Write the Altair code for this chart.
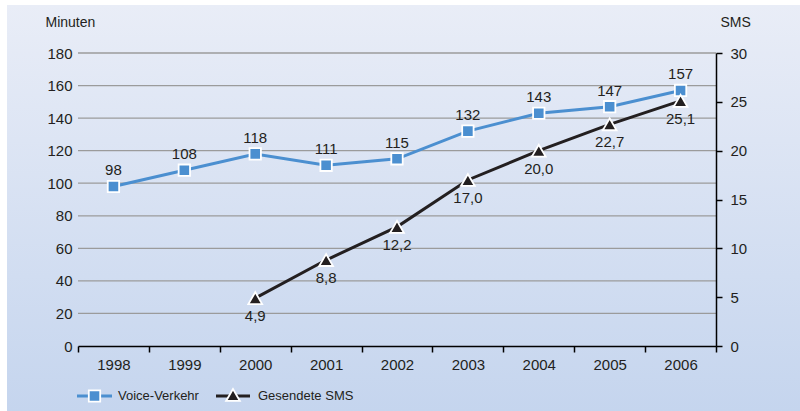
import altair as alt
import pandas as pd

# Data
years = ["1998", "1999", "2000", "2001", "2002", "2003", "2004", "2005", "2006"]
voice_minutes = [98, 108, 118, 111, 115, 132, 143, 147, 157]
sms_years = ["2000", "2001", "2002", "2003", "2004", "2005", "2006"]
sms_count = [4.9, 8.8, 12.2, 17.0, 20.0, 22.7, 25.1]
legend_names = ["Voice-Verkehr", "Gesendete SMS"]
minute_ticks = [0, 20, 40, 60, 80, 100, 120, 140, 160, 180]
sms_ticks = [0, 5, 10, 15, 20, 25, 30]

voice_df = pd.DataFrame({"year": years, "minutes": voice_minutes})
sms_df = pd.DataFrame({"year": sms_years, "sms": sms_count})
grid_df = pd.DataFrame({"minutes": minute_ticks[1:]})
one_row = pd.DataFrame({"k": [0]})
leg_voice = pd.DataFrame({"name": [legend_names[0]]})
leg_sms = pd.DataFrame({"name": [legend_names[1]]})

FONT = "Liberation Sans"
TEXT = "#231f20"
BLUE = "#4b8fd0"
BLACK = "#231f20"

W, H = 638, 293
PAD = {"left": 78, "top": 53, "right": 84, "bottom": 65}

x_enc = alt.X(
    "year:O",
    bandPosition=0.5,
    scale=alt.Scale(type="band", domain=years, paddingInner=0, paddingOuter=0),
    axis=alt.Axis(
        title=None, tickBand="extent", domainColor="#000000", domainWidth=1.5,
        tickColor="#000000", tickWidth=1.5, tickSize=6, labelPadding=5,
        labelFontSize=15, labelColor=TEXT, labelFont=FONT, labelAngle=0,
        zindex=1,
    ),
)

# Background panel with vertical gradient
background = alt.Chart(one_row).mark_rect(
    color=alt.LinearGradient(
        gradient="linear", x1=0, x2=0, y1=0, y2=1,
        stops=[alt.GradientStop(color="#e9edf7", offset=0),
               alt.GradientStop(color="#c5d5ee", offset=1)],
    )
).encode(
    x=alt.value(-71), x2=alt.value(722), y=alt.value(-48), y2=alt.value(358)
)

y_voice = alt.Y(
    "minutes:Q",
    scale=alt.Scale(domain=[0, 180], nice=False),
    axis=alt.Axis(
        values=minute_ticks, orient="left", grid=False,
        domain=False, ticks=False,
        labelPadding=6, labelFontSize=15, labelColor=TEXT, labelFont=FONT,
        title="Minuten", titleAngle=0, titleX=-33, titleY=-31,
        titleAlign="left", titleBaseline="middle", titleFontSize=14,
        titleFontWeight="normal", titleColor=TEXT, titleFont=FONT,
        zindex=1,
    ),
)

# Horizontal gridlines for the minutes scale, under the series
grid = alt.Chart(grid_df).mark_rule(color="#9b9b9b", strokeWidth=1.3).encode(
    y=y_voice
)

voice_base = alt.Chart(voice_df).encode(x=x_enc, y=y_voice)
voice_line = voice_base.mark_line(color=BLUE, strokeWidth=3)
voice_pts = voice_base.mark_point(
    shape="square", size=130, filled=True, fill=BLUE,
    stroke="white", strokeWidth=1.8, opacity=1,
)
voice_txt = voice_base.mark_text(
    dy=-16, baseline="middle", fontSize=15, font=FONT, color=TEXT
).encode(text="minutes:Q")

voice_layer = alt.layer(background, grid, voice_line, voice_pts, voice_txt)

y_sms = alt.Y(
    "sms:Q",
    scale=alt.Scale(domain=[0, 30], nice=False),
    axis=alt.Axis(
        values=sms_ticks, orient="right", grid=False,
        domain=True, domainColor="#000000", domainWidth=1.5,
        ticks=True, tickColor="#000000", tickWidth=1.5, tickSize=6,
        labelPadding=8, labelFontSize=15, labelColor=TEXT, labelFont=FONT,
        title="SMS", titleAngle=0, titleX=4, titleY=-31,
        titleAlign="left", titleBaseline="middle", titleFontSize=14,
        titleFontWeight="normal", titleColor=TEXT, titleFont=FONT,
        zindex=1,
    ),
)

sms_base = alt.Chart(sms_df).transform_calculate(
    label="replace(format(datum.sms, '.1f'), '.', ',')"
).encode(x=x_enc, y=y_sms)
sms_line = sms_base.mark_line(color=BLACK, strokeWidth=3)
sms_pts = sms_base.mark_point(
    shape="triangle-up", size=190, filled=True, fill=BLACK,
    stroke="white", strokeWidth=1.8, opacity=1,
)
sms_txt = sms_base.mark_text(
    dy=18, baseline="middle", fontSize=15, font=FONT, color=TEXT
).encode(text="label:N")

# Legend below the axis
leg_y = 343
leg1_line = alt.Chart(leg_voice).mark_rule(color=BLUE, strokeWidth=3).encode(
    x=alt.value(-1), x2=alt.value(34), y=alt.value(leg_y)
)
leg1_pt = alt.Chart(leg_voice).mark_point(
    shape="square", size=130, filled=True, fill=BLUE,
    stroke="white", strokeWidth=1.8, opacity=1,
).encode(x=alt.value(16.5), y=alt.value(leg_y))
leg1_txt = alt.Chart(leg_voice).mark_text(
    align="left", baseline="middle", fontSize=13, font=FONT, color=TEXT,
).encode(x=alt.value(40), y=alt.value(leg_y), text="name:N")
leg2_line = alt.Chart(leg_sms).mark_rule(color=BLACK, strokeWidth=3).encode(
    x=alt.value(138), x2=alt.value(172), y=alt.value(leg_y)
)
leg2_pt = alt.Chart(leg_sms).mark_point(
    shape="triangle-up", size=190, filled=True, fill=BLACK,
    stroke="white", strokeWidth=1.8, opacity=1,
).encode(x=alt.value(155), y=alt.value(leg_y - 1))
leg2_txt = alt.Chart(leg_sms).mark_text(
    align="left", baseline="middle", fontSize=13, font=FONT, color=TEXT,
).encode(x=alt.value(180), y=alt.value(leg_y), text="name:N")

sms_layer = alt.layer(
    sms_line, sms_pts, sms_txt,
    leg1_line, leg1_pt, leg1_txt, leg2_line, leg2_pt, leg2_txt,
)

chart = (
    alt.layer(voice_layer, sms_layer)
    .resolve_scale(y="independent")
    .properties(
        width=W, height=H,
        autosize=alt.AutoSizeParams(type="none"),
        padding=PAD,
        background="white",
    )
    .configure_view(stroke=None)
)

chart.save("out.html", embed_options={"renderer": "svg", "actions": False})
